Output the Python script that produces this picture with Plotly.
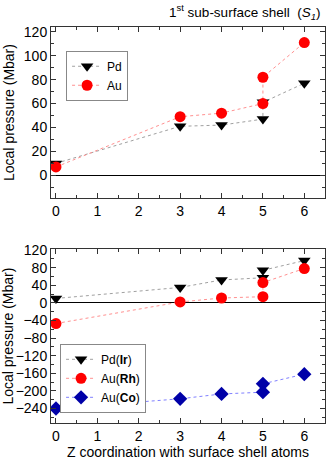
import plotly.graph_objects as go

# x positions (Z coordination)
z = [0, 3, 4, 5, 5, 6]

# top panel: 1st sub-surface shell
pd_top = [10, 41, 42, 47, 61, 77]
au_top = [7, 49, 52, 60, 82, 111]

# bottom panel: doped shells
pd_ir = [10, 35, 52, 57, 74, 96]
au_rh = [-47, 2, 11, 14, 46, 78]
au_co = [-240, -218, -207, -203, -184, -162]

FONT = "Arial, Liberation Sans, sans-serif"

fig = go.Figure()

def add(x, y, name, col, lcol, sym, xa, ya, leg):
    fig.add_trace(go.Scatter(
        x=x, y=y, name=name, mode='lines+markers', xaxis=xa, yaxis=ya, legend=leg,
        line=dict(color=lcol, width=1, dash='dot'),
        marker=dict(color=col, symbol=sym, size=11, line=dict(width=0))))

add(z, pd_top, 'Pd', 'black', '#a0a0a0', 'triangle-down', 'x', 'y', 'legend')
add(z, au_top, 'Au', '#ff0000', '#ff9090', 'circle', 'x', 'y', 'legend')
add(z, pd_ir, 'Pd(<b>Ir</b>)', 'black', '#a0a0a0', 'triangle-down', 'x2', 'y2', 'legend2')
add(z, au_rh, 'Au(<b>Rh</b>)', '#ff0000', '#ff9090', 'circle', 'x2', 'y2', 'legend2')
add(z, au_co, 'Au(<b>Co</b>)', '#0000a8', '#8080ff', 'diamond', 'x2', 'y2', 'legend2')

ax = dict(showline=True, linecolor='#333', linewidth=1, mirror='ticks', ticks='inside',
          ticklen=5, tickcolor='#333', showgrid=False, automargin=False,
          tickfont=dict(size=14, color='black'))
xax = dict(ax, range=[-0.12, 6.5], dtick=1, minor=dict(dtick=0.5, ticks='inside', ticklen=3, tickcolor='#333'))

fig.update_layout(
    width=327, height=459,
    margin=dict(l=51, r=2, t=27, b=36),
    plot_bgcolor='white', paper_bgcolor='white',
    font=dict(family=FONT, size=13, color='black'),
    showlegend=True,
    xaxis=dict(xax, anchor='y'),
    yaxis=dict(ax, domain=[0.568, 1], range=[-19, 124], dtick=20,
               zeroline=True, zerolinecolor='black', zerolinewidth=1.2,
               minor=dict(dtick=10, ticks='inside', ticklen=3, tickcolor='#333'),
               title=dict(text='Local pressure (Mbar)', standoff=5, font=dict(size=14))),
    xaxis2=dict(xax, anchor='y2'),
    yaxis2=dict(ax, domain=[0, 0.439], range=[-273, 122], dtick=40,
                zeroline=True, zerolinecolor='black', zerolinewidth=1.2,
                minor=dict(dtick=20, ticks='inside', ticklen=3, tickcolor='#333'),
                title=dict(text='Local pressure (Mbar)', standoff=5, font=dict(size=14))),
    legend=dict(x=0.055, y=0.94, xanchor='left', yanchor='top', bordercolor='#888', borderwidth=1,
                bgcolor='white', font=dict(size=12), tracegroupgap=0, itemwidth=30),
    legend2=dict(x=0.033, y=0.2, xanchor='left', yanchor='top', bordercolor='#888', borderwidth=1,
                 bgcolor='white', font=dict(size=12), tracegroupgap=0, itemwidth=30),
    annotations=[
        dict(text='1<sup>st</sup> sub-surface shell  (<i>S<sub>1</sub></i>)',
             xref='paper', yref='paper', x=0.99, y=1.0, yshift=15, xanchor='right', yanchor='middle',
             showarrow=False, font=dict(size=13.5)),
        dict(text='Z coordination with surface shell atoms',
             xref='paper', yref='paper', x=0.5, y=0, yshift=-29, xanchor='center', yanchor='middle',
             showarrow=False, font=dict(size=14)),
    ],
)

# drop the default page margin so the figure sits at the window's corner
fig.write_html("out.html", config={'displayModeBar': False},
               post_script="document.body.style.margin='0';")
